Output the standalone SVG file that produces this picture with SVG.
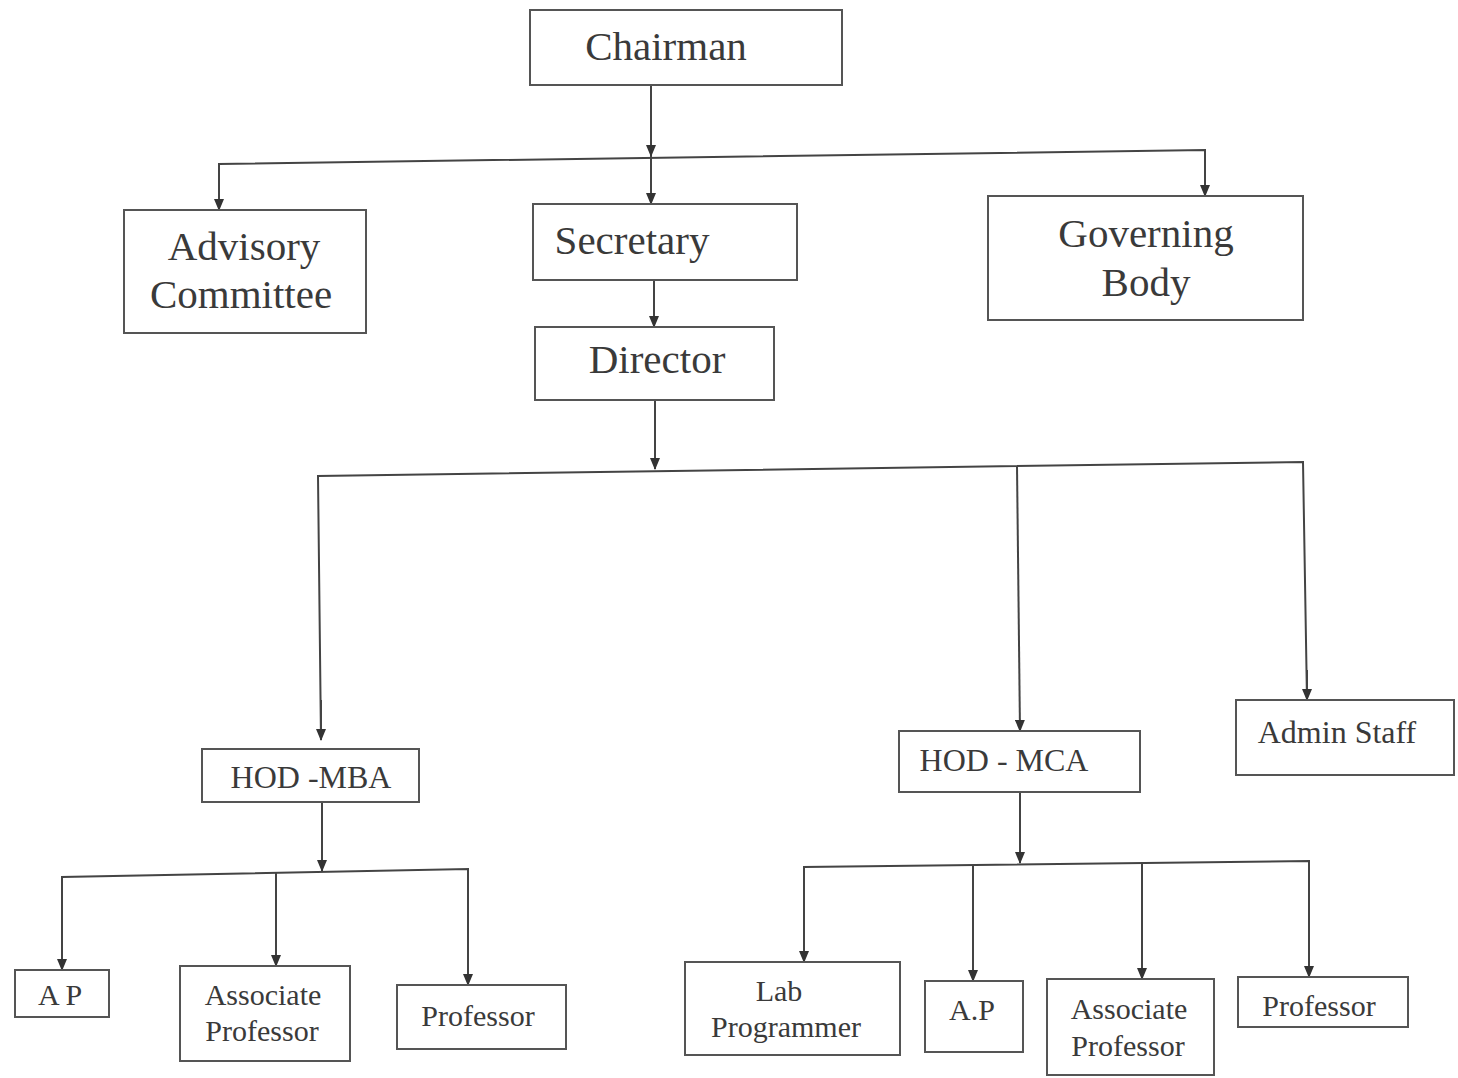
<svg xmlns="http://www.w3.org/2000/svg" width="1458" height="1078" viewBox="0 0 1458 1078">
<style>
.box{fill:#fff;stroke:#555;stroke-width:2}
.t{font-family:"Liberation Serif","Times New Roman",serif;fill:#3a3a3a;text-anchor:middle;dominant-baseline:middle}
.big{font-size:41px}
.mid{font-size:32px}
.sm{font-size:30px}
.ln{fill:none;stroke:#444;stroke-width:2}
</style>
<defs>
<marker id="ah" viewBox="0 0 12 10" refX="11" refY="5" markerWidth="12" markerHeight="10" markerUnits="userSpaceOnUse" orient="auto">
<path d="M0,0 L12,5 L0,10 z" fill="#333"/>
</marker>
</defs>
<rect width="1458" height="1078" fill="#fff"/>
<g id="connectors">
<line class="ln" x1="651" y1="85" x2="651" y2="156" marker-end="url(#ah)"/>
<line class="ln" x1="651" y1="156" x2="651" y2="204" marker-end="url(#ah)"/>
<polyline class="ln" points="219,210 219,164 1205,150 1205,196"/>
<line class="ln" x1="219" y1="180" x2="219" y2="210" marker-end="url(#ah)"/>
<line class="ln" x1="1205" y1="170" x2="1205" y2="196" marker-end="url(#ah)"/>
<line class="ln" x1="654" y1="280" x2="654" y2="327" marker-end="url(#ah)"/>
<line class="ln" x1="655" y1="400" x2="655" y2="469" marker-end="url(#ah)"/>
<polyline class="ln" points="321,740 318,476 1303,462 1307,700"/>
<line class="ln" x1="321" y1="700" x2="321" y2="740" marker-end="url(#ah)"/>
<line class="ln" x1="1017" y1="466" x2="1020" y2="731" marker-end="url(#ah)"/>
<line class="ln" x1="1307" y1="670" x2="1307" y2="700" marker-end="url(#ah)"/>
<line class="ln" x1="322" y1="802" x2="322" y2="871" marker-end="url(#ah)"/>
<polyline class="ln" points="62,970 62,877 468,869 468,985"/>
<line class="ln" x1="62" y1="940" x2="62" y2="970" marker-end="url(#ah)"/>
<line class="ln" x1="276" y1="873" x2="276" y2="966" marker-end="url(#ah)"/>
<line class="ln" x1="468" y1="950" x2="468" y2="985" marker-end="url(#ah)"/>
<line class="ln" x1="1020" y1="792" x2="1020" y2="863" marker-end="url(#ah)"/>
<polyline class="ln" points="804,962 804,867 1309,861 1309,977"/>
<line class="ln" x1="804" y1="930" x2="804" y2="962" marker-end="url(#ah)"/>
<line class="ln" x1="973" y1="865" x2="973" y2="981" marker-end="url(#ah)"/>
<line class="ln" x1="1142" y1="863" x2="1142" y2="979" marker-end="url(#ah)"/>
<line class="ln" x1="1309" y1="940" x2="1309" y2="977" marker-end="url(#ah)"/>
</g>
<g id="chairman"><rect class="box" x="530" y="10" width="312" height="75"/><text class="t big" x="666" y="51">Chairman</text></g>
<g id="advisory"><rect class="box" x="124" y="210" width="242" height="123"/><text class="t big" x="244" y="251">Advisory</text><text class="t big" x="241" y="299">Committee</text></g>
<g id="secretary"><rect class="box" x="533" y="204" width="264" height="76"/><text class="t big" x="632" y="245">Secretary</text></g>
<g id="governing"><rect class="box" x="988" y="196" width="315" height="124"/><text class="t big" x="1146" y="238">Governing</text><text class="t big" x="1146" y="287">Body</text></g>
<g id="director"><rect class="box" x="535" y="327" width="239" height="73"/><text class="t big" x="657" y="364">Director</text></g>
<g id="hod-mba"><rect class="box" x="202" y="749" width="217" height="53"/><text class="t mid" x="311" y="781">HOD -MBA</text></g>
<g id="hod-mca"><rect class="box" x="899" y="731" width="241" height="61"/><text class="t mid" x="1004" y="764">HOD - MCA</text></g>
<g id="admin"><rect class="box" x="1236" y="700" width="218" height="75"/><text class="t mid" x="1337" y="736">Admin Staff</text></g>
<g id="ap-mba"><rect class="box" x="15" y="970" width="94" height="47"/><text class="t sm" x="60" y="998">A P</text></g>
<g id="assoc-mba"><rect class="box" x="180" y="966" width="170" height="95"/><text class="t sm" x="263" y="998">Associate</text><text class="t sm" x="262" y="1034">Professor</text></g>
<g id="prof-mba"><rect class="box" x="397" y="985" width="169" height="64"/><text class="t sm" x="478" y="1019">Professor</text></g>
<g id="lab"><rect class="box" x="685" y="962" width="215" height="93"/><text class="t sm" x="779" y="994">Lab</text><text class="t sm" x="786" y="1030">Programmer</text></g>
<g id="ap-mca"><rect class="box" x="925" y="981" width="98" height="71"/><text class="t sm" x="972" y="1013">A.P</text></g>
<g id="assoc-mca"><rect class="box" x="1047" y="979" width="167" height="96"/><text class="t sm" x="1129" y="1012">Associate</text><text class="t sm" x="1128" y="1049">Professor</text></g>
<g id="prof-mca"><rect class="box" x="1238" y="977" width="170" height="50"/><text class="t sm" x="1319" y="1009">Professor</text></g>
</svg>
